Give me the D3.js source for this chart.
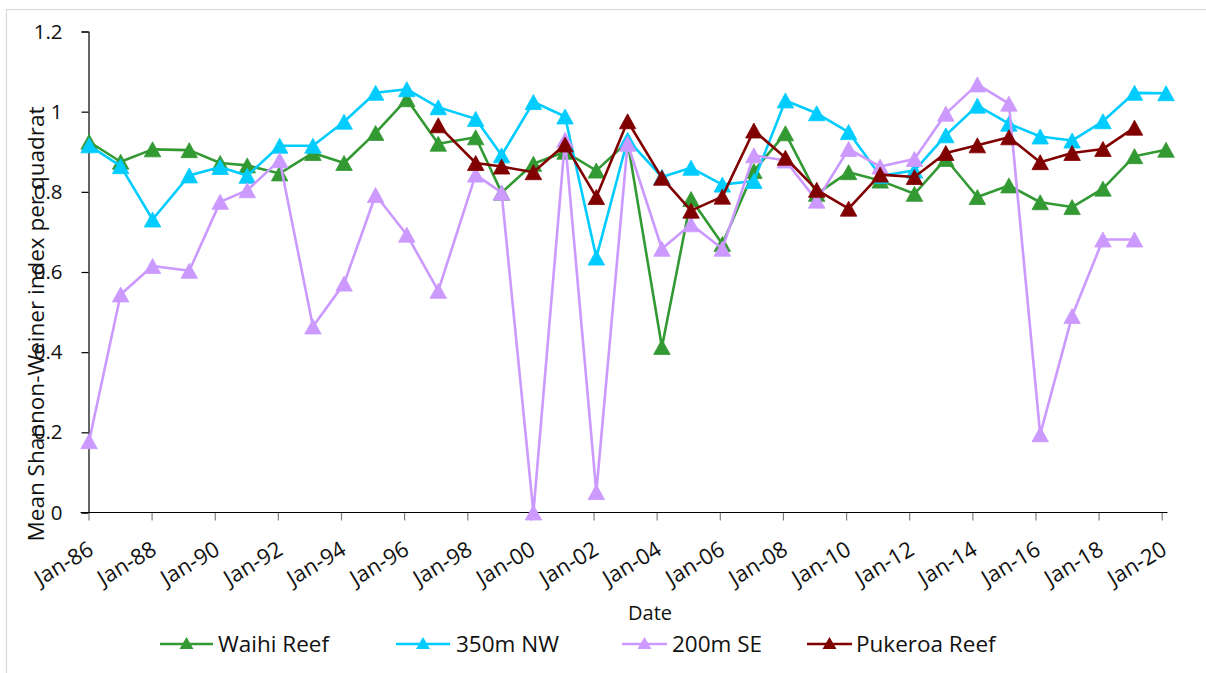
<!DOCTYPE html>
<html>
<head>
<meta charset="utf-8">
<script src="https://cdn.jsdelivr.net/npm/d3@7"></script>
<style>
  html, body { margin: 0; padding: 0; background: #fff; }
  svg { display: block; font-family: "Open Sans", "Noto Sans", sans-serif; }
</style>
</head>
<body>
<svg id="chart" width="1206" height="673"></svg>
<script>
// ---- Data ----
const dates = ["1986-01-08","1987-01-08","1988-01-12","1989-03-12","1990-03-05","1991-01-12","1992-01-22","1993-02-10","1994-02-05","1995-02-05","1996-02-01","1997-01-30","1998-04-08","1999-02-02","2000-02-05","2001-02-05","2002-02-02","2003-01-30","2004-03-02","2005-02-02","2006-01-30","2007-01-30","2008-01-30","2009-01-26","2010-01-30","2011-01-30","2012-03-02","2013-02-28","2014-02-28","2015-02-28","2016-02-25","2017-02-28","2018-02-20","2019-02-20","2020-02-20"];

const waihiReef = [0.925,0.875,0.906,0.904,0.872,0.866,0.846,0.897,0.872,0.947,1.031,0.920,0.936,0.798,0.870,0.900,0.853,0.925,0.413,0.782,0.670,0.852,0.946,0.795,0.849,0.828,0.795,0.882,0.787,0.816,0.774,0.762,0.808,0.889,0.905];

const nw350m = [0.916,0.864,0.731,0.841,0.862,0.840,0.915,0.915,0.975,1.047,1.056,1.011,0.982,0.891,1.024,0.988,0.636,0.930,0.837,0.860,0.818,0.827,1.028,0.996,0.949,0.840,0.853,0.941,1.015,0.970,0.938,0.928,0.976,1.047,1.046];

const se200m = [0.178,0.544,0.615,0.603,0.775,0.804,0.879,0.464,0.571,0.792,0.693,0.553,0.843,0.798,0.000,0.930,0.051,0.920,0.658,0.719,0.658,0.891,0.878,0.778,0.907,0.863,0.882,0.995,1.068,1.020,0.195,0.490,0.681,0.681,null];

const pukeroaReef = [null,null,null,null,null,null,null,null,null,null,null,0.966,0.872,0.863,0.849,0.918,0.787,0.976,0.835,0.753,0.788,0.953,0.885,0.805,0.758,0.843,0.837,0.897,0.916,0.936,0.874,0.897,0.907,0.960,null];

const seriesNames = ["Waihi Reef","350m NW","200m SE","Pukeroa Reef"];
const seriesValues = [waihiReef, nw350m, se200m, pukeroaReef];
const seriesColors = ["#339933","#00CCFF","#CC99FF","#800000"];

const yTicks = [0,0.2,0.4,0.6,0.8,1,1.2];
const yTickLabels = ["0","0.2","0.4","0.6","0.8","1","1.2"];
const xTickYears = [1986,1988,1990,1992,1994,1996,1998,2000,2002,2004,2006,2008,2010,2012,2014,2016,2018,2020];

const xTitle = "Date";
const yTitle = "Mean Shannon-Weiner index per quadrat";

// ---- Layout ----
const svg = d3.select("#chart");
const parse = d3.timeParse("%Y-%m-%d");
const dateObjs = dates.map(parse);

const plotLeft = 88.5, plotRight = 1167.5, plotTop = 31.5, plotBottom = 512.5;

const x = d3.scaleTime()
  .domain([new Date(1986,0,1), new Date(2020,2,8)])
  .range([plotLeft, plotRight]);
const y = d3.scaleLinear().domain([0,1.2]).range([plotBottom, plotTop]);

// outer border
svg.append("rect")
  .attr("x", 6.5).attr("y", 9.5)
  .attr("width", 1250).attr("height", 700)
  .attr("fill", "none").attr("stroke", "#d9d9d9").attr("stroke-width", 1.2);

// Y axis
const yAxis = d3.axisLeft(y).tickValues(yTicks)
  .tickFormat((d,i) => yTickLabels[i]).tickSize(7).tickPadding(19);
const gy = svg.append("g").attr("transform", `translate(${plotLeft},0)`).call(yAxis);
gy.select(".domain").attr("stroke", "#000").attr("stroke-width", 1.2);
gy.selectAll(".tick line").attr("stroke", "#000").attr("stroke-width", 1.2);
gy.selectAll(".tick text").attr("font-size", 20.5).attr("fill", "#111")
  .attr("font-family", "'Open Sans', sans-serif");

// X axis
const xTickDates = xTickYears.map(yr => new Date(yr,0,1));
const xAxis = d3.axisBottom(x).tickValues(xTickDates)
  .tickFormat(d3.timeFormat("%b-%y")).tickSize(8).tickSizeOuter(0);
const gx = svg.append("g").attr("transform", `translate(0,${plotBottom})`).call(xAxis);
gx.select(".domain").remove();
gx.selectAll(".tick line").attr("stroke", "#7f7f7f").attr("stroke-width", 1.2);
gx.selectAll(".tick text")
  .attr("font-size", 22).attr("fill", "#111")
  .attr("font-family", "'Open Sans', sans-serif")
  .attr("text-anchor", "end")
  .attr("y", 0).attr("dy", 0)
  .attr("transform", "translate(6,41) rotate(-31)");
// x axis line (extends left to meet y-axis tick)
svg.append("line")
  .attr("x1", plotLeft - 8).attr("x2", plotRight)
  .attr("y1", plotBottom).attr("y2", plotBottom)
  .attr("stroke", "#000").attr("stroke-width", 1.2);

// Axis titles
svg.append("text")
  .attr("x", 650).attr("y", 620)
  .attr("text-anchor", "middle")
  .attr("font-size", 20).attr("fill", "#111")
  .text(xTitle);

svg.append("text")
  .attr("transform", "translate(44,324) rotate(-90)")
  .attr("text-anchor", "middle")
  .attr("font-size", 22.5).attr("fill", "#111")
  .text(yTitle);

// marker path
function tri(w, h) {
  return `M0,${-h/2}L${w/2},${h/2}L${-w/2},${h/2}Z`;
}

// Series
const line = d3.line()
  .defined(d => d.v !== null)
  .x(d => x(d.date))
  .y(d => y(d.v));

seriesValues.forEach((vals, si) => {
  const data = vals.map((v,i) => ({date: dateObjs[i], v}));
  const g = svg.append("g");
  g.append("path")
    .datum(data)
    .attr("fill", "none")
    .attr("stroke", seriesColors[si])
    .attr("stroke-width", 2.6)
    .attr("stroke-linejoin", "round")
    .attr("d", line);
  g.selectAll("path.mk")
    .data(data.filter(d => d.v !== null))
    .enter().append("path")
    .attr("class", "mk")
    .attr("d", tri(16.5, 15))
    .attr("transform", d => `translate(${x(d.date)},${y(d.v)})`)
    .attr("fill", seriesColors[si])
    .attr("stroke", seriesColors[si])
    .attr("stroke-width", 0.8);
});

// Legend
const legendItems = [
  {x1: 160, x2: 213, tx: 218},
  {x1: 396, x2: 450, tx: 456},
  {x1: 622, x2: 667, tx: 672},
  {x1: 807, x2: 852, tx: 856}
];
const ly = 644;
legendItems.forEach((it, i) => {
  const g = svg.append("g");
  g.append("line")
    .attr("x1", it.x1).attr("x2", it.x2)
    .attr("y1", ly).attr("y2", ly)
    .attr("stroke", seriesColors[i]).attr("stroke-width", 2.6);
  g.append("path")
    .attr("d", tri(14, 12))
    .attr("transform", `translate(${(it.x1+it.x2)/2},${ly-1})`)
    .attr("fill", seriesColors[i]);
  g.append("text")
    .attr("x", it.tx).attr("y", ly + 8)
    .attr("font-size", 22.5).attr("fill", "#111")
    .text(seriesNames[i]);
});
</script>
</body>
</html>
